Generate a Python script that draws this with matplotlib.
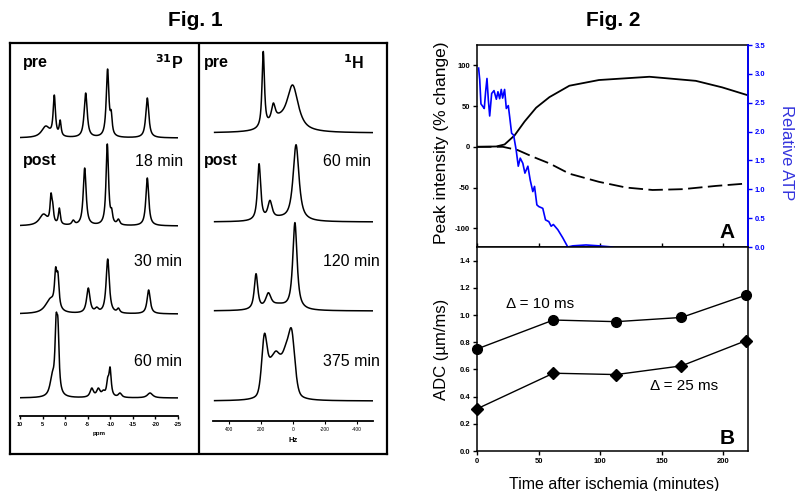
import numpy as np
import matplotlib
matplotlib.use("Agg")
import matplotlib.pyplot as plt

plt.rcParams['font.family'] = ['Liberation Sans', 'DejaVu Sans']

W, H = 796, 491

# ---------------- Fig. 1 data (peak lists) ----------------
# 31P spectra: peak positions (ppm), heights (px-units), half widths (ppm)
p31_labels = ["pre", "18 min", "30 min", "60 min"]
p31_offsets = [278, 190, 102, 18]
p31_pos = [
    [4.3, 2.4, 1.1, -4.55, -9.4, -10.2, -18.2],
    [4.8, 3.13, 2.76, 1.29, -1.8, -4.33, -9.34, -10.3, -11.8, -18.2],
    [3.3, 2.1, 1.6, -5.13, -7.0, -9.43, -11.8, -18.5],
    [2.85, 2.0, 1.6, -5.9, -7.35, -8.45, -9.43, -9.95, -12.15, -18.8],
]
p31_h = [
    [12, 43, 18, 45, 69, 28, 40],
    [12, 33, 24, 18, 6, 58, 82, 18, 7, 48],
    [16, 47, 42, 26, 7, 55, 6, 24],
    [26, 84, 80, 10, 10, 8, 21, 31, 5, 5],
]
p31_w = [
    [1.1, 0.3, 0.25, 0.4, 0.35, 0.25, 0.4],
    [1.1, 0.25, 0.25, 0.25, 0.35, 0.38, 0.33, 0.25, 0.35, 0.38],
    [1.3, 0.3, 0.3, 0.45, 0.45, 0.42, 0.35, 0.42],
    [0.6, 0.3, 0.3, 0.45, 0.45, 0.45, 0.3, 0.3, 0.45, 0.7],
]

# 1H spectra: positions (Hz), heights, half widths (Hz), lorentzian fraction
h1_labels = ["pre", "60 min", "120 min", "375 min"]
h1_offsets = [288, 199, 110, 20]
h1_pos = [
    [186, 123, 92, 2],
    [212, 144, 87, -19],
    [231, 154, 92, -12],
    [179, 139, 106, 81, 45, 8],
]
h1_h = [
    [81.6, 30, 20, 48],
    [58.3, 21.7, 6.7, 77.3],
    [37.3, 18.3, 8, 88.4],
    [67.3, 44, 50, 47, 57, 71.7],
]
h1_w = [
    [9, 14, 70, 42],
    [12, 16, 70, 22],
    [13, 20, 70, 16],
    [20, 30, 26, 30, 30, 24],
]
h1_eta = [0.85, 0.85, 0.85, 0.4]

p31_ticks = [10, 5, 0, -5, -10, -15, -20, -25]
h1_ticks = [400, 200, 0, -200, -400]

# ---------------- Fig. 2 data ----------------
t_peak = [0, 15.6, 22.4, 30.5, 38.6, 48, 58.8, 75, 99, 140, 177.6, 199, 219.4]
peak_up = [0, 0.4, 2.9, 14, 31, 48, 61, 75, 82, 86, 81, 73, 63.5]
t_dash = [0, 21, 33, 45, 59, 75, 99, 121, 142.5, 167, 194, 219.4]
peak_down = [0, 0, -4, -12, -20.5, -33, -43, -50, -53, -52, -48, -45]
t_atp = [1.3, 2.2, 3.2, 4.9, 5.9, 7.0, 8.1, 9.2, 10.3, 11.9, 13.8, 15.7, 17.0, 18.4,
         19.7, 20.8, 22.4, 23.8, 25.4, 26.5, 28.1, 29.7, 31.8, 33.5, 35.1, 37.2, 38.9,
         41.3, 43.2, 45.3, 46.7, 48.6, 50.2, 53.4, 55.6, 58.3, 60.2, 62.0, 65.6, 69.6,
         73.7, 77.7, 88.5, 99, 110]
atp = [3.1, 2.9, 2.48, 2.43, 2.40, 2.69, 2.92, 2.55, 2.27, 2.66, 2.71, 2.56, 2.69, 2.57,
       2.73, 2.58, 2.73, 2.40, 2.45, 2.26, 1.97, 1.94, 1.68, 1.40, 1.54, 1.45, 1.28,
       1.40, 1.16, 0.96, 1.05, 0.73, 0.70, 0.67, 0.47, 0.44, 0.36, 0.39, 0.30, 0.16,
       0.0, 0.02, 0.035, 0.02, 0.0]
t_adc = [0, 62, 113, 166, 218]
adc_10 = [0.75, 0.963, 0.951, 0.982, 1.145]
adc_25 = [0.31, 0.572, 0.562, 0.626, 0.81]


def px(x0, y0, x1, y1):
    return [x0 / W, 1 - y1 / H, (x1 - x0) / W, (y1 - y0) / H]


def unit_peak(x, x0, w, eta):
    d = (x - x0) / w
    return eta / (1 + d ** 2) + (1 - eta) * np.exp(-np.log(2) * d ** 2)


def spectrum(x, pos, h, w, eta):
    pos = np.asarray(pos, float); h = np.asarray(h, float); w = np.asarray(w, float)
    M = np.array([[unit_peak(pi, pj, wj, eta) for pj, wj in zip(pos, w)] for pi in pos])
    amps = np.linalg.solve(M, h)
    y = np.zeros_like(x)
    for a, pj, wj in zip(amps, pos, w):
        y += a * unit_peak(x, pj, wj, eta)
    return y


fig = plt.figure(figsize=(W / 100, H / 100), dpi=100)


def ftext(x, y, s, **kw):
    fig.text(x / W, 1 - y / H, s, **kw)


# ---------------- Fig. 1 ----------------
frame = fig.add_axes(px(10, 43, 387, 454))
frame.set_xticks([]); frame.set_yticks([])
for sp in frame.spines.values():
    sp.set_linewidth(1.6)
frame.axvline((199 - 10) / (387 - 10), color='black', lw=1.6)
frame.patch.set_alpha(0)

axp = fig.add_axes(px(20, 45, 178, 416))
axp.patch.set_alpha(0)
xp = np.linspace(10, -25, 1400)
for off, pos, h, w in zip(p31_offsets, p31_pos, p31_h, p31_w):
    axp.plot(xp, off + spectrum(xp, pos, h, w, 0.9), color='black', lw=1.1)
axp.set_xlim(10, -25)
axp.set_ylim(0, 371)
for s in ['top', 'left', 'right']:
    axp.spines[s].set_visible(False)
axp.spines['bottom'].set_linewidth(1.3)
axp.set_yticks([])
axp.set_xticks(p31_ticks)
axp.set_xticklabels([str(t) for t in p31_ticks], fontsize=4, fontweight='bold')
axp.tick_params(axis='x', length=2.5, width=1, pad=2)
axp.set_xlabel("ppm", fontsize=4.5, fontweight='bold', labelpad=3)

axh = fig.add_axes(px(213, 45, 373, 421))
axh.patch.set_alpha(0)
xh = np.linspace(490, -500, 1400)
for off, pos, h, w, eta in zip(h1_offsets, h1_pos, h1_h, h1_w, h1_eta):
    axh.plot(xh, off + spectrum(xh, pos, h, w, eta), color='black', lw=1.1)
axh.set_xlim(500, -500)
axh.set_ylim(0, 376)
for s in ['top', 'left', 'right']:
    axh.spines[s].set_visible(False)
axh.spines['bottom'].set_linewidth(1.3)
axh.set_yticks([])
axh.set_xticks(h1_ticks)
axh.set_xticklabels([str(t) for t in h1_ticks], fontsize=3.5)
axh.tick_params(axis='x', length=2, width=0.8, pad=2)
axh.set_xlabel("Hz", fontsize=5.5, fontweight='bold', labelpad=4)

ftext(195, 20, "Fig. 1", fontsize=15, fontweight='bold', ha='center', va='center')
ftext(613, 20, "Fig. 2", fontsize=15, fontweight='bold', ha='center', va='center')

lab = dict(fontsize=11.5, va='center')
ftext(23, 63, "pre", fontweight='bold', **lab)
ftext(183, 63, r"$\mathbf{^{31}}$P", fontweight='bold', ha='right', **lab)
ftext(23, 161, "post", fontweight='bold', **lab)
ftext(135, 161, p31_labels[1], **lab)
ftext(134, 262, p31_labels[2], **lab)
ftext(134, 361, p31_labels[3], **lab)
ftext(204, 63, "pre", fontweight='bold', **lab)
ftext(364, 63, r"$\mathbf{^{1}}$H", fontweight='bold', ha='right', **lab)
ftext(204, 161, "post", fontweight='bold', **lab)
ftext(323, 161, h1_labels[1], **lab)
ftext(323, 262, h1_labels[2], **lab)
ftext(323, 361, h1_labels[3], **lab)

# ---------------- Fig. 2 ----------------
blue = '#0000ff'
axa = fig.add_axes(px(477, 45, 748, 247))
axa.plot(t_peak, peak_up, color='black', lw=1.3)
axa.plot(t_dash, peak_down, color='black', lw=1.3, dashes=(8, 3))
axa.set_xlim(0, 220)
axa.set_ylim(-123, 125)
axa.set_yticks([-100, -50, 0, 50, 100])
axa.set_yticklabels(["-100", "-50", "0", "50", "100"], fontsize=5.5, fontweight='bold')
axa.set_xticks([0, 50, 100, 150, 200])
axa.set_xticklabels([])
axa.tick_params(axis='x', direction='in', length=3, width=1)
axa.tick_params(axis='y', length=3, width=1, pad=2)
for sp in axa.spines.values():
    sp.set_linewidth(1.1)

axr = axa.twinx()
axr.plot(t_atp, atp, color=blue, lw=1.2, clip_on=True)
axr.set_ylim(0, 3.5)
axr.set_yticks([0, 0.5, 1.0, 1.5, 2.0, 2.5, 3.0, 3.5])
axr.set_yticklabels(["0.0", "0.5", "1.0", "1.5", "2.0", "2.5", "3.0", "3.5"],
                    fontsize=5.5, fontweight='bold', color=blue)
axr.tick_params(axis='y', colors=blue, length=3, width=1, pad=2)
axr.spines['right'].set_color(blue)
axr.spines['right'].set_linewidth(1.3)
for s in ['top', 'left', 'bottom']:
    axr.spines[s].set_visible(False)

axb = fig.add_axes(px(477, 247, 748, 451))
axb.plot(t_adc, adc_10, color='black', lw=1.0, marker='o', ms=7, clip_on=False, zorder=3)
axb.plot(t_adc, adc_25, color='black', lw=1.0, marker='D', ms=6.5, clip_on=False, zorder=3)
axb.set_xlim(0, 220)
axb.set_ylim(0, 1.5)
axb.set_yticks([0, 0.2, 0.4, 0.6, 0.8, 1.0, 1.2, 1.4])
axb.set_yticklabels(["0.0", "0.2", "0.4", "0.6", "0.8", "1.0", "1.2", "1.4"],
                    fontsize=5.5, fontweight='bold')
axb.set_xticks([0, 50, 100, 150, 200])
axb.set_xticklabels(["0", "50", "100", "150", "200"], fontsize=5.5, fontweight='bold')
axb.tick_params(length=3, width=1, pad=2)
for sp in axb.spines.values():
    sp.set_linewidth(1.1)
axb.text(51, 1.083, "Δ = 10 ms", fontsize=11, ha='center', va='center')
axb.text(168.4, 0.479, "Δ = 25 ms", fontsize=11, ha='center', va='center')

ftext(727, 232, "A", fontsize=15, fontweight='bold', ha='center', va='center')
ftext(727, 439, "B", fontsize=15, fontweight='bold', ha='center', va='center')
ftext(441, 143, "Peak intensity (% change)", fontsize=12.5, rotation=90, ha='center', va='center')
ftext(441, 349, "ADC (µm/ms)", fontsize=12, rotation=90, ha='center', va='center')
ftext(786, 153, "Relative ATP", fontsize=12, rotation=270, ha='center', va='center', color='#3333dd')
ftext(614, 485, "Time after ischemia (minutes)", fontsize=11.5, ha='center', va='center')

fig.savefig("out.png", dpi=100)
